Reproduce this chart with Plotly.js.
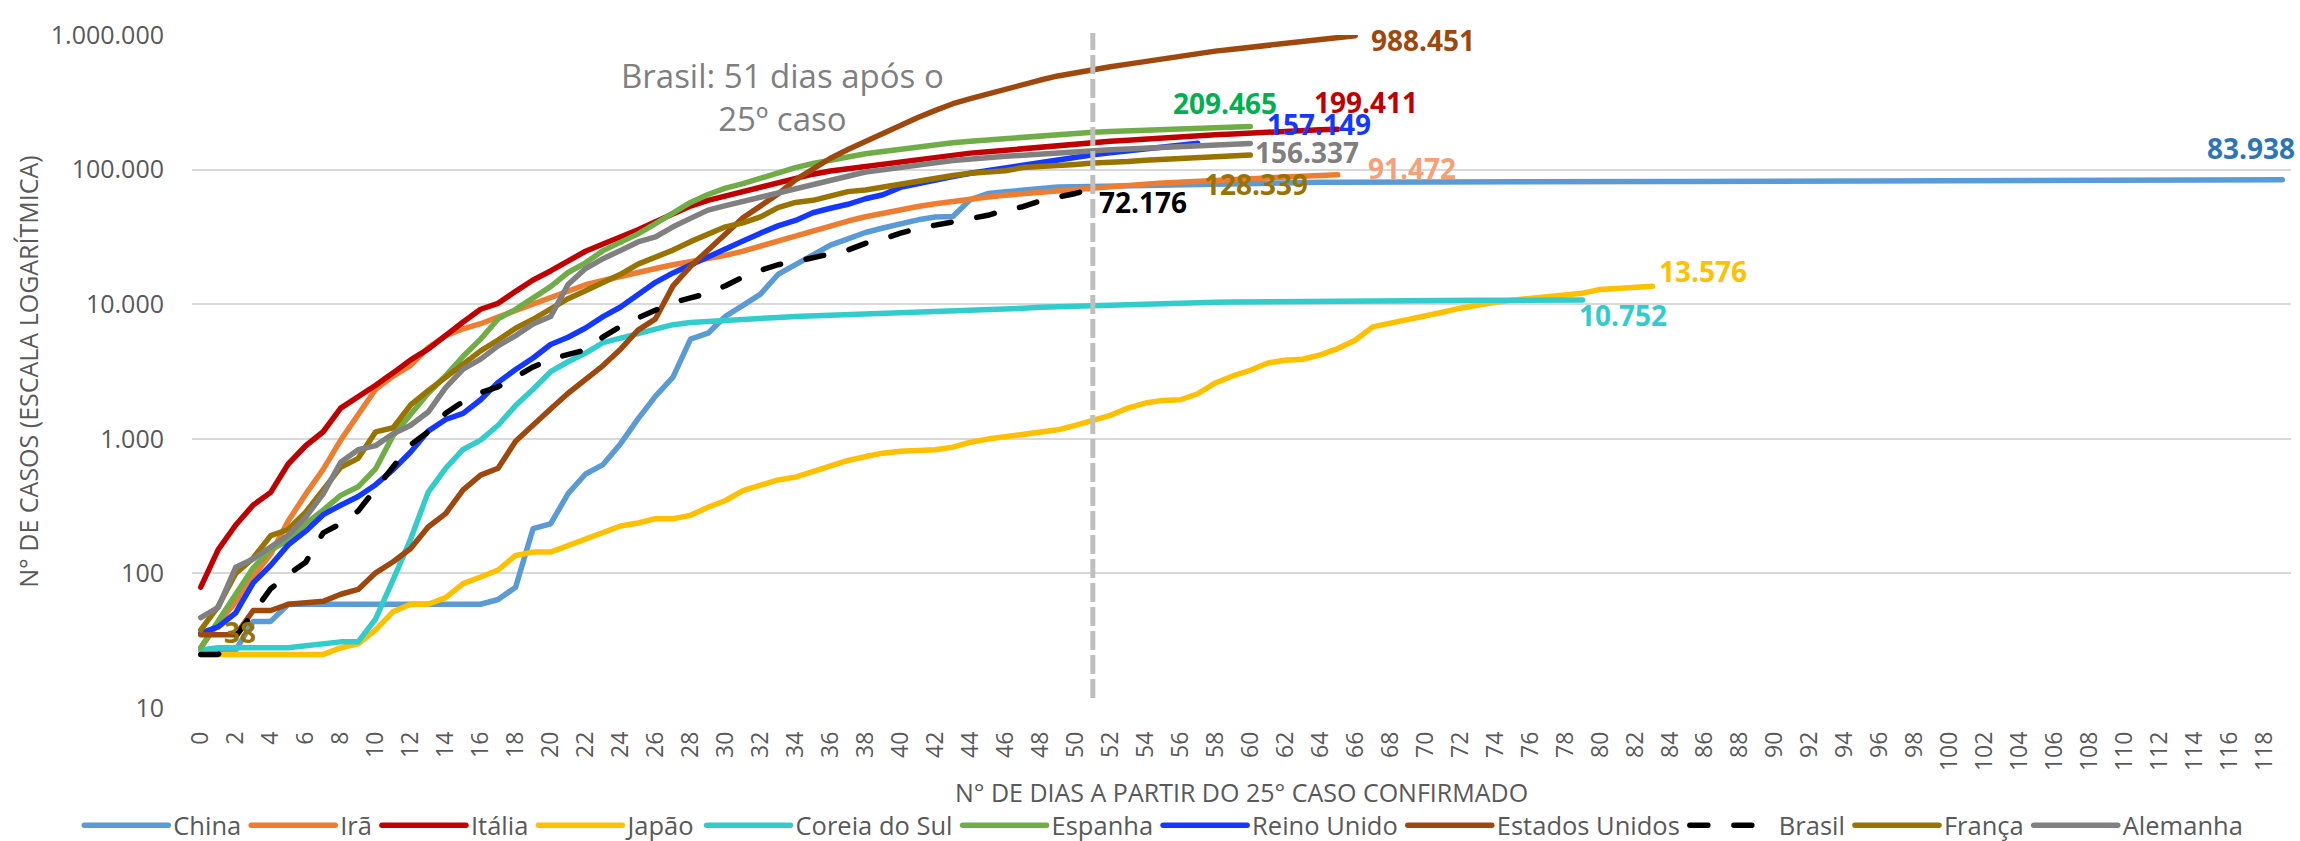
<!DOCTYPE html>
<html>
<head>
<meta charset="utf-8">
<script src="https://cdn.plot.ly/plotly-3.0.1.min.js"></script>
<style>
html,body{margin:0;padding:0;background:#ffffff;}
#chart{width:2300px;height:841px;}
.js-line{stroke-linecap:round;stroke-linejoin:round;}
</style>
</head>
<body>
<div id="chart"></div>
<script>
// ---------- DATA (cumulative cases, day 0 = 25th confirmed case) ----------
const countries = ['China','Irã','Itália','Japão','Coreia do Sul','Espanha','Reino Unido','Estados Unidos','Brasil','França','Alemanha'];

const china = [27,27,27,44,44,59,59,59,59,59,59,59,59,59,59,59,59,64,79,215,233,391,
  548,643,920,1406,2075,2877,5509,6087,8141,9802,11891,16630,19716,23707,27440,30587,34110,36814,
  39829,42354,44386,44759,59895,66358,68413,70513,72434,74211,74619,75077,75550,77001,77022,77241,
  77754,78166,78600,78928,79356,79932,80136,80261,80386,80537,80690,80770,80823,80860,80887,80921,
  80932,80945,80977,81003,81033,81058,81102,81156,81250,81305,81435,81498,81591,81661,81782,81897,
  81999,82122,82198,82279,82361,82432,82511,82543,82602,82665,82718,82809,82883,82941,83014,83134,
  83213,83306,83356,83403,83760,83787,83805,83817,83853,83868,83884,83899,83909,83912,83918,83938];

const ira = [28,43,61,95,139,245,388,593,978,1501,2336,2922,3513,4747,5823,6566,7161,8042,9000,10075,
  11364,12729,13938,14991,16169,17361,18407,19644,20610,21638,23049,24811,27017,29406,32332,35408,
  38309,41495,44605,47593,50468,53183,55743,58226,60500,62589,64586,66220,68192,70029,71686,73303,
  74877,76389,77995,79494,80868,82211,83505,84802,85996,87026,88194,89328,90481,91472];

const italia = [79,150,229,322,400,650,888,1128,1689,2036,2502,3089,3858,4636,5883,7375,9172,10149,
  12462,15113,17660,21157,24747,27980,31506,35713,41035,47021,53578,59138,63927,69176,74386,80589,
  86498,92472,97689,101739,105792,110574,115242,119827,124632,128948,132547,135586,139422,143626,
  147577,152271,156363,159516,162488,165155,168941,172434,175925,178972,181228,183957,187327,189973,
  192994,195351,197675,199411];

const japao = [25,25,25,25,25,25,25,25,28,30,38,52,59,59,66,84,94,106,136,144,144,161,181,203,225,237,
  255,255,270,310,348,412,457,495,519,575,633,690,738,782,809,819,828,867,944,995,1030,1071,1102,1166,
  1257,1370,1492,1692,1844,1929,1950,2161,2600,2930,3230,3660,3836,3900,4200,4680,5400,6780,7180,7690,
  8240,8720,9340,9940,10340,10710,11020,11340,11670,12080,12860,13150,13310,13576];

const coreia = [27,28,28,28,28,28,29,30,31,31,46,90,180,400,602,833,977,1261,1766,2337,3150,3736,4335,
  5186,5621,6088,6593,7041,7314,7478,7513,7755,7869,7979,8086,8162,8236,8320,8413,8565,8652,8799,8897,
  8961,9037,9137,9241,9332,9478,9583,9661,9786,9887,9976,10062,10156,10237,10284,10331,10384,10423,
  10450,10480,10512,10537,10564,10591,10613,10635,10653,10661,10674,10683,10694,10702,10708,10718,
  10728,10738,10752];

const espanha = [28,45,70,110,150,176,234,295,380,440,600,1060,1500,2180,2940,4100,5500,7770,9150,11000,
  13500,17200,20300,25000,28800,33300,39700,48000,57000,65300,72800,78700,86500,95200,103500,111000,
  118000,126000,131000,136500,142000,148000,154000,158500,162500,166500,170500,175000,179500,183500,
  187000,189500,192000,194500,197000,199500,201500,203500,205500,207500,209465];

const reinoUnido = [36,40,51,85,115,163,206,273,321,373,456,590,798,1140,1391,1543,1950,2626,3269,3983,
  5018,5683,6650,8077,9529,11658,14543,17089,19522,22141,25150,29474,33718,38168,41903,47806,51608,
  55242,60733,65077,73758,78991,84279,88621,93873,98476,103093,108692,114217,120067,124743,129044,
  133495,138078,143464,148377,152840,157149];

const estadosUnidos = [35,35,35,53,53,59,60,62,70,76,101,122,153,221,278,417,537,605,959,1281,1663,2179,
  2726,3499,4632,6421,7786,13680,19101,25493,33276,43847,53740,65778,83836,101657,121465,140909,161831,
  188172,213242,243622,275367,308650,336802,366317,397121,428654,462780,496535,526396,555313,580619,
  607670,636350,667801,699706,732197,758809,784326,811865,840351,869170,905358,938154,965785,988451];

const brasil = [25,25,34,52,77,98,121,200,234,291,428,621,904,1128,1546,1891,2201,2433,2915,3417,3904,
  4256,4579,5717,6836,7910,9056,10278,11130,12056,13717,15927,17857,19638,20727,22169,23430,25262,
  28320,30425,33682,36599,38654,40581,43079,45757,50036,52995,58509,61888,66501,72176];

const franca = [38,57,100,130,191,212,285,423,613,716,1126,1209,1784,2281,2876,3661,4499,5423,6633,7730,
  9134,10995,12612,14459,16689,19856,22302,25233,29155,32964,37575,40174,44550,52128,56989,59105,64338,
  68605,70478,74390,78167,82048,86334,90276,93790,95403,98076,103573,106206,108847,109252,111821,
  112606,114657,117324,119151,120804,122577,124114,124575,128339];

const alemanha = [47,56,111,128,157,192,262,390,670,830,890,1090,1260,1580,2400,3290,3910,4900,5840,7130,
  8090,14000,18400,21800,25100,29000,31600,37600,43400,50000,54000,58000,62500,67000,72000,77500,84000,
  90000,96000,99500,103000,107500,112500,117000,120500,123000,125500,128000,131000,133500,136000,138000,
  140500,142500,144500,146500,148500,150500,152500,154200,156337];

const xTickVals = [0,2,4,6,8,10,12,14,16,18,20,22,24,26,28,30,32,34,36,38,40,42,44,46,48,50,52,54,56,58,
  60,62,64,66,68,70,72,74,76,78,80,82,84,86,88,90,92,94,96,98,100,102,104,106,108,110,112,114,116,118];
const xTickLabels = xTickVals.map(String);
const yTickVals = [10,100,1000,10000,100000,1000000];
const yTickLabels = ['10','100','1.000','10.000','100.000','1.000.000'];

const xTitle = 'N° DE DIAS A PARTIR DO 25° CASO CONFIRMADO';
const yTitle = 'N° DE CASOS (ESCALA LOGARÍTMICA)';
const noteText = 'Brasil: 51 dias após o<br>25º caso';

// ---------- STYLES ----------
const seriesData = [china, ira, italia, japao, coreia, espanha, reinoUnido, estadosUnidos, brasil, franca, alemanha];
const lineColors = ['#5B9BD5','#ED7D31','#C00000','#FFC000','#33CCCC','#70AD47','#1438FF','#9E480E','#000000','#997300','#808080'];
const labelStyle = {
  'China':          {color:'#2E75B6', dx:-31, dy:32},
  'Irã':            {color:'#F4A078', dx:74,  dy:7},
  'Itália':         {color:'#C00000', dx:28,  dy:27.5},
  'Japão':          {color:'#FFC000', dx:50,  dy:15},
  'Coreia do Sul':  {color:'#33CCCC', dx:40,  dy:-15},
  'Espanha':        {color:'#00B050', dx:-25, dy:23},
  'Reino Unido':    {color:'#1438FF', dx:121, dy:19.5},
  'Estados Unidos': {color:'#9E480E', dx:67.5,dy:-4},
  'Brasil':         {color:'#000000', dx:50,  dy:-13},
  'França':         {color:'#997300', dx:6,   dy:-29},
  'Alemanha':       {color:'#7F7F7F', dx:57,  dy:-9}
};

function fmt(v){ return String(v).replace(/\B(?=(\d{3})+(?!\d))/g, '.'); }

const traces = countries.map((name, i) => {
  const ys = seriesData[i];
  return {
    type: 'scatter', mode: 'lines', name: name,
    x: ys.map((_, d) => d), y: ys,
    line: {color: lineColors[i], width: 5.5, dash: name === 'Brasil' ? '18px,26px' : 'solid'},
    cliponaxis: false, hoverinfo: 'skip'
  };
});

const labelFont = 'Open Sans, sans-serif';
const annotations = countries.map((name, i) => {
  const ys = seriesData[i];
  const last = ys.length - 1;
  const st = labelStyle[name];
  return {
    xref: 'x', yref: 'y', x: last, y: Math.log10(ys[last]),
    text: '<b>' + fmt(ys[last]) + '</b>', showarrow: false,
    xanchor: 'center', yanchor: 'middle', xshift: st.dx, yshift: st.dy,
    font: {family: labelFont, size: 28, color: st.color}
  };
});
// first-point label of França
annotations.push({
  xref: 'x', yref: 'y', x: 0, y: Math.log10(franca[0]),
  text: '<b>' + fmt(franca[0]) + '</b>', showarrow: false,
  xanchor: 'center', yanchor: 'middle', xshift: 39, yshift: -2,
  font: {family: labelFont, size: 28, color: '#997300'}
});
// Brazil note
annotations.push({
  xref: 'paper', yref: 'paper', x: 0.2812, y: 0.908,
  text: noteText, showarrow: false, xanchor: 'center', yanchor: 'middle', align: 'center',
  font: {family: labelFont, size: 33, color: '#7F7F7F'}
});

const layout = {
  width: 2300, height: 841,
  margin: {l: 192, r: 9, t: 35, b: 133, pad: 0, autoexpand: false},
  paper_bgcolor: '#ffffff', plot_bgcolor: '#ffffff',
  font: {family: 'Open Sans, sans-serif', color: '#595959', size: 25},
  showlegend: true,
  xaxis: {
    range: [-0.5, 119.5], tickmode: 'array', tickvals: xTickVals, ticktext: xTickLabels,
    tickangle: -90, tickfont: {size: 23, color: '#595959'},
    showgrid: false, zeroline: false, showline: false, ticks: '', ticklabelstandoff: 18,
    title: {text: xTitle, font: {size: 25, color: '#595959'}, standoff: 14}
  },
  yaxis: {
    type: 'log', range: [1, 6], tickmode: 'array', tickvals: yTickVals, ticktext: yTickLabels,
    tickfont: {size: 25, color: '#595959'},
    showgrid: true, gridcolor: '#D9D9D9', gridwidth: 2, zeroline: false, showline: false,
    ticks: '', ticklabelstandoff: 27,
    title: {text: yTitle, font: {size: 25, color: '#595959'}, standoff: 5}
  },
  legend: {
    orientation: 'h', xref: 'paper', x: -0.0537, xanchor: 'left', y: -0.175, yanchor: 'middle',
    font: {size: 25.5, color: '#595959'}, itemwidth: 84, bgcolor: 'rgba(0,0,0,0)', traceorder: 'normal'
  },
  shapes: [{
    type: 'line', xref: 'x', yref: 'paper', x0: brasil.length - 1, x1: brasil.length - 1, y0: 0.015, y1: 1.003,
    line: {color: '#BFBFBF', width: 5, dash: '19px,5px'}, layer: 'above'
  }],
  annotations: annotations,
  hovermode: false
};

Plotly.newPlot('chart', traces, layout, {displayModeBar: false, staticPlot: true});
</script>
</body>
</html>
